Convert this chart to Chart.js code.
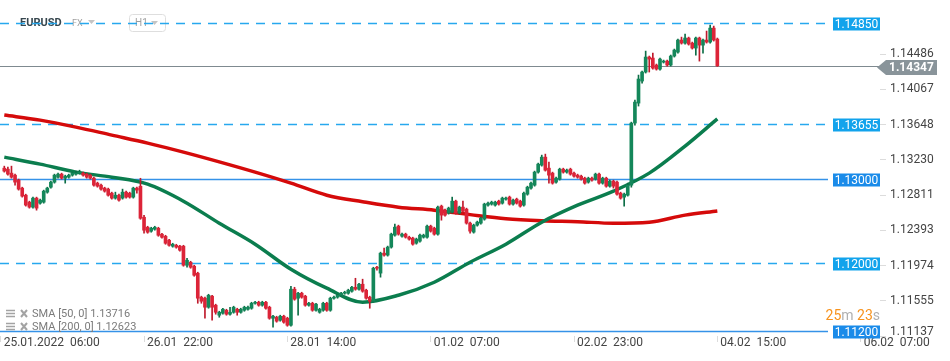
<!DOCTYPE html>
<html>
<head>
<meta charset="utf-8">
<script src="https://cdn.jsdelivr.net/npm/chart.js@4.4.1/dist/chart.umd.min.js"></script>
<style>
  html, body { margin: 0; padding: 0; background: #fff; }
  #wrap { width: 950px; height: 361px; position: relative; }
</style>
</head>
<body>
<div id="wrap"><canvas id="chart"></canvas></div>
<script>
// EURUSD H1 candles, 25.01 07:00 .. 04.02 14:00
const opens = [
  1.13131,1.13119,1.13072,1.13048,1.12989,1.12894,1.12810,1.12727,1.12668,1.12775,
  1.12715,1.12727,1.12846,1.12905,1.12965,1.13024,1.13060,1.13012,1.13024,1.13048,
  1.13060,1.13072,1.13072,1.13060,1.13048,1.13012,1.12953,1.12929,1.12894,1.12882,
  1.12834,1.12775,1.12810,1.12775,1.12846,1.12834,1.12787,1.12894,1.12916,1.12548,
  1.12429,1.12382,1.12406,1.12417,1.12346,1.12322,1.12275,1.12204,1.12215,1.12204,
  1.12204,1.11978,1.12013,1.11966,1.11883,1.11598,1.11586,1.11479,1.11610,1.11503,
  1.11384,1.11408,1.11443,1.11396,1.11419,1.11455,1.11419,1.11443,1.11455,1.11467,
  1.11526,1.11538,1.11503,1.11538,1.11479,1.11348,1.11360,1.11324,1.11372,1.11348,
  1.11265,1.11693,1.11586,1.11645,1.11610,1.11503,1.11526,1.11443,1.11419,1.11443,
  1.11526,1.11443,1.11586,1.11598,1.11621,1.11645,1.11645,1.11669,1.11716,1.11693,
  1.11752,1.11681,1.11598,1.11550,1.11954,1.11884,1.12121,1.12098,1.12193,1.12335,
  1.12442,1.12323,1.12347,1.12311,1.12300,1.12240,1.12264,1.12311,1.12311,1.12442,
  1.12418,1.12347,1.12680,1.12632,1.12597,1.12608,1.12739,1.12597,1.12668,1.12644,
  1.12478,1.12371,1.12454,1.12478,1.12525,1.12692,1.12704,1.12692,1.12739,1.12715,
  1.12763,1.12787,1.12704,1.12763,1.12739,1.12692,1.12822,1.12894,1.12929,1.13084,
  1.13167,1.13262,1.13131,1.13072,1.12965,1.13001,1.13119,1.13084,1.13119,1.13072,
  1.13048,1.13036,1.13012,1.12965,1.13012,1.13001,1.13060,1.12953,1.13012,1.12917,
  1.12977,1.12965,1.12834,1.12787,1.12810,1.12929,1.13667,1.13904,1.14166,1.14273,
  1.14451,1.14439,1.14356,1.14308,1.14391,1.14403,1.14356,1.14463,1.14510,1.14653,
  1.14617,1.14677,1.14617,1.14558,1.14677,1.14593,1.14653,1.14629,1.14795,1.14665
];
const highs = [
  1.13155,1.13143,1.13155,1.13060,1.13001,1.12905,1.12822,1.12739,1.12787,1.12787,
  1.12763,1.12870,1.12905,1.12977,1.13060,1.13072,1.13072,1.13048,1.13060,1.13084,
  1.13096,1.13107,1.13084,1.13072,1.13060,1.13024,1.12965,1.12941,1.12905,1.12894,
  1.12846,1.12846,1.12822,1.12882,1.12858,1.12846,1.12905,1.12905,1.13011,1.12572,
  1.12441,1.12429,1.12441,1.12429,1.12358,1.12334,1.12287,1.12239,1.12227,1.12215,
  1.12215,1.12061,1.12025,1.11978,1.11895,1.11610,1.11598,1.11633,1.11621,1.11515,
  1.11431,1.11467,1.11455,1.11479,1.11491,1.11467,1.11467,1.11491,1.11491,1.11538,
  1.11550,1.11550,1.11550,1.11550,1.11491,1.11384,1.11372,1.11384,1.11384,1.11360,
  1.11728,1.11716,1.11657,1.11657,1.11621,1.11538,1.11538,1.11526,1.11467,1.11538,
  1.11538,1.11598,1.11610,1.11633,1.11657,1.11669,1.11693,1.11728,1.11823,1.11764,
  1.11812,1.11693,1.11610,1.11954,1.11966,1.12133,1.12181,1.12205,1.12359,1.12466,
  1.12454,1.12359,1.12359,1.12323,1.12311,1.12300,1.12347,1.12347,1.12454,1.12454,
  1.12430,1.12680,1.12692,1.12644,1.12668,1.12787,1.12751,1.12680,1.12739,1.12656,
  1.12490,1.12466,1.12502,1.12549,1.12715,1.12727,1.12739,1.12739,1.12751,1.12787,
  1.12787,1.12799,1.12763,1.12775,1.12751,1.12846,1.12917,1.12965,1.13096,1.13191,
  1.13286,1.13298,1.13202,1.13084,1.13024,1.13131,1.13131,1.13119,1.13131,1.13084,
  1.13060,1.13048,1.13024,1.13024,1.13024,1.13072,1.13072,1.13024,1.13024,1.12989,
  1.12989,1.12977,1.12846,1.12834,1.12953,1.13678,1.13940,1.14237,1.14285,1.14522,
  1.14463,1.14498,1.14368,1.14439,1.14415,1.14415,1.14475,1.14546,1.14665,1.14688,
  1.14724,1.14688,1.14629,1.14688,1.14688,1.14665,1.14760,1.14831,1.14819,1.14677
];
const lows = [
  1.13084,1.13048,1.13012,1.12929,1.12870,1.12787,1.12680,1.12656,1.12656,1.12632,
  1.12704,1.12715,1.12834,1.12894,1.12953,1.13012,1.13001,1.12953,1.13012,1.13036,
  1.13048,1.13060,1.13036,1.13012,1.13001,1.12917,1.12905,1.12870,1.12846,1.12799,
  1.12763,1.12763,1.12739,1.12763,1.12775,1.12775,1.12775,1.12834,1.12524,1.12358,
  1.12358,1.12370,1.12394,1.12322,1.12299,1.12227,1.12204,1.12192,1.12180,1.12144,
  1.11966,1.11954,1.11942,1.11847,1.11526,1.11526,1.11348,1.11467,1.11324,1.11396,
  1.11360,1.11396,1.11384,1.11384,1.11408,1.11384,1.11408,1.11431,1.11443,1.11455,
  1.11515,1.11491,1.11491,1.11455,1.11336,1.11241,1.11301,1.11313,1.11289,1.11253,
  1.11253,1.11562,1.11384,1.11586,1.11491,1.11491,1.11431,1.11431,1.11408,1.11431,
  1.11431,1.11431,1.11574,1.11586,1.11610,1.11633,1.11633,1.11657,1.11681,1.11681,
  1.11657,1.11574,1.11467,1.11538,1.11918,1.11836,1.12086,1.12086,1.12181,1.12323,
  1.12335,1.12311,1.12300,1.12276,1.12216,1.12228,1.12252,1.12300,1.12300,1.12371,
  1.12335,1.12335,1.12513,1.12561,1.12585,1.12597,1.12585,1.12585,1.12608,1.12466,
  1.12359,1.12359,1.12442,1.12466,1.12513,1.12680,1.12692,1.12680,1.12692,1.12704,
  1.12751,1.12692,1.12692,1.12704,1.12668,1.12680,1.12810,1.12882,1.12917,1.13072,
  1.13155,1.13096,1.12953,1.12941,1.12953,1.12989,1.13072,1.13072,1.13048,1.13024,
  1.13012,1.12989,1.12941,1.12953,1.12977,1.12989,1.12941,1.12941,1.12905,1.12905,
  1.12894,1.12810,1.12763,1.12680,1.12799,1.12905,1.13643,1.13869,1.14142,1.14261,
  1.14273,1.14308,1.14296,1.14296,1.14380,1.14344,1.14344,1.14451,1.14498,1.14605,
  1.14605,1.14593,1.14546,1.14475,1.14403,1.14498,1.14617,1.14617,1.14641,1.14340
];
const closes = [
  1.13096,1.13060,1.13024,1.12965,1.12882,1.12799,1.12692,1.12668,1.12775,1.12656,
  1.12751,1.12858,1.12894,1.12965,1.13048,1.13060,1.13012,1.13036,1.13048,1.13072,
  1.13072,1.13084,1.13048,1.13024,1.13012,1.12929,1.12917,1.12882,1.12858,1.12810,
  1.12775,1.12810,1.12751,1.12846,1.12787,1.12787,1.12894,1.12870,1.12536,1.12394,
  1.12370,1.12417,1.12429,1.12334,1.12310,1.12239,1.12215,1.12227,1.12192,1.12156,
  1.11978,1.12037,1.11954,1.11859,1.11586,1.11550,1.11479,1.11621,1.11479,1.11419,
  1.11419,1.11455,1.11396,1.11419,1.11479,1.11419,1.11455,1.11479,1.11479,1.11526,
  1.11538,1.11503,1.11538,1.11467,1.11348,1.11372,1.11313,1.11372,1.11301,1.11265,
  1.11693,1.11574,1.11645,1.11598,1.11503,1.11526,1.11443,1.11515,1.11455,1.11526,
  1.11443,1.11586,1.11598,1.11621,1.11645,1.11657,1.11681,1.11716,1.11693,1.11752,
  1.11669,1.11586,1.11550,1.11942,1.11942,1.12121,1.12098,1.12193,1.12347,1.12430,
  1.12347,1.12347,1.12311,1.12288,1.12228,1.12288,1.12335,1.12335,1.12442,1.12383,
  1.12347,1.12668,1.12573,1.12573,1.12656,1.12739,1.12597,1.12668,1.12620,1.12478,
  1.12383,1.12454,1.12490,1.12537,1.12704,1.12715,1.12727,1.12727,1.12704,1.12775,
  1.12775,1.12704,1.12751,1.12715,1.12680,1.12834,1.12905,1.12953,1.13084,1.13179,
  1.13262,1.13107,1.13048,1.12953,1.13012,1.13119,1.13084,1.13107,1.13060,1.13036,
  1.13024,1.13001,1.12953,1.13012,1.12989,1.13060,1.12953,1.13012,1.12917,1.12977,
  1.12917,1.12822,1.12775,1.12822,1.12929,1.13666,1.13916,1.14190,1.14273,1.14451,
  1.14427,1.14320,1.14308,1.14427,1.14403,1.14356,1.14463,1.14534,1.14653,1.14617,
  1.14677,1.14605,1.14558,1.14677,1.14593,1.14653,1.14629,1.14795,1.14653,1.14347
];

// moving averages, every 10 bars
const smaBars = [0,10,20,30,40,50,60,70,80,90,100,110,120,130,140,150,160,170,180,190,199];
const sma50 = [1.13262,1.13179,1.13084,1.13024,1.12941,1.12739,1.12477,1.12228,1.11930,1.11705,
  1.11538,1.11621,1.11776,1.12014,1.12228,1.12489,1.12691,1.12858,1.13072,1.13393,1.13716];
const sma200 = [1.13762,1.13702,1.13619,1.13524,1.13429,1.13322,1.13206,1.13084,1.12953,1.12810,
  1.12733,1.12668,1.12632,1.12579,1.12531,1.12507,1.12495,1.12477,1.12489,1.12573,1.12623];

// axes
const tickBars = [-1, 39, 79, 119, 159, 199, 239];
const tickLabels = ['25.01.2022  06:00', '26.01  22:00', '28.01  14:00', '01.02  07:00',
  '02.02  23:00', '04.02  15:00', '06.02  07:00'];
const priceTicks = [1.11137, 1.11555, 1.11974, 1.12393, 1.12811, 1.13230, 1.13648, 1.14067, 1.14486];

// horizontal levels
const levels = [1.14850, 1.13655, 1.13000, 1.12000, 1.11200];
const levelDashed = [true, true, false, true, false];
const lastPrice = 1.14347;
const countdown = [['25', '#f7931e'], ['m ', '#b0b0b0'], ['23', '#f7931e'], ['s', '#b0b0b0']];

const FONT = 'Roboto, "Noto Sans", sans-serif';
const UP = '#14875a', DOWN = '#dc2438';
const UP_WICK = '#0d6e47', DOWN_WICK = '#bf1a2c';

const idx = closes.map((c, i) => i);
const isUp = idx.map(i => closes[i] >= opens[i]);

function drawTriangle(ctx, x, y) {
  ctx.beginPath();
  ctx.moveTo(x, y); ctx.lineTo(x + 7, y); ctx.lineTo(x + 3.5, y + 4);
  ctx.closePath(); ctx.fill();
}

const overlay = {
  id: 'overlay',
  beforeDatasetsDraw(chart) {
    const { ctx, chartArea: a, scales: { y } } = chart;
    ctx.save();
    // symbol header
    ctx.textBaseline = 'middle';
    ctx.fillStyle = '#37474f';
    ctx.font = 'bold 11px ' + FONT;
    ctx.fillText('EURUSD', 20, 23);
    ctx.fillStyle = '#a0a0a0';
    ctx.font = '9px ' + FONT;
    ctx.fillText('FX', 72, 24);
    ctx.fillStyle = '#c4c4c4';
    drawTriangle(ctx, 88, 20);
    ctx.strokeStyle = '#dedede';
    ctx.lineWidth = 1;
    ctx.beginPath();
    ctx.roundRect(129.5, 14.5, 36, 17, 3);
    ctx.stroke();
    ctx.fillStyle = '#a0a0a0';
    ctx.font = '10px ' + FONT;
    ctx.fillText('H1', 135, 23.5);
    ctx.fillStyle = '#c4c4c4';
    drawTriangle(ctx, 151, 21);

    // level lines
    levels.forEach((v, i) => {
      const py = Math.round(y.getPixelForValue(v)) + 0.5;
      ctx.strokeStyle = levelDashed[i] ? '#27a8ee' : '#3592e8';
      ctx.lineWidth = levelDashed[i] ? 1.3 : 1.4;
      ctx.setLineDash(levelDashed[i] ? [9, 7] : []);
      ctx.beginPath();
      ctx.moveTo(a.left, py);
      ctx.lineTo(a.right - 52, py);
      ctx.stroke();
    });
    ctx.setLineDash([]);
    const lp = Math.round(y.getPixelForValue(lastPrice)) + 0.5;
    ctx.strokeStyle = '#7f8a90';
    ctx.lineWidth = 1;
    ctx.beginPath();
    ctx.moveTo(a.left, lp);
    ctx.lineTo(a.right, lp);
    ctx.stroke();
    ctx.restore();
  },
  afterDatasetsDraw(chart) {
    const { ctx, chartArea: a } = chart;
    ctx.save();
    ctx.beginPath();
    ctx.rect(a.left, a.top, a.right - a.left, a.bottom - a.top - 3);
    ctx.clip();
    // indicator legend
    const rows = [['SMA [50, 0] ' + sma50[sma50.length - 1].toFixed(5), 313.5],
                  ['SMA [200, 0] ' + sma200[sma200.length - 1].toFixed(5), 326.5]];
    rows.forEach(([txt, cy]) => {
      ctx.strokeStyle = '#a3a3a3';
      ctx.lineWidth = 1.5;
      ctx.beginPath();
      [-3, 0, 3].forEach(d => { ctx.moveTo(6, cy + d); ctx.lineTo(15, cy + d); });
      ctx.stroke();
      ctx.lineWidth = 2;
      ctx.beginPath();
      ctx.moveTo(21, cy - 3.5); ctx.lineTo(27, cy + 3.5);
      ctx.moveTo(27, cy - 3.5); ctx.lineTo(21, cy + 3.5);
      ctx.stroke();
      ctx.fillStyle = '#7b7b7b';
      ctx.font = '11px ' + FONT;
      ctx.textBaseline = 'middle';
      ctx.fillText(txt, 32, cy + 1);
    });
    ctx.restore();
  },
  afterDraw(chart) {
    const { ctx, chartArea: a, scales: { y } } = chart;
    ctx.save();
    ctx.textBaseline = 'middle';
    // level price boxes
    levels.forEach((v, i) => {
      const py = Math.round(y.getPixelForValue(v)) + 1;
      ctx.fillStyle = levelDashed[i] ? '#12a3ec' : '#1a8be9';
      ctx.fillRect(a.right - 47, py - 6.5, 47, 13);
      ctx.fillStyle = '#fff';
      ctx.font = '12px ' + FONT;
      ctx.textAlign = 'center';
      ctx.fillText(v.toFixed(5), a.right - 23.5, py + 0.5);
    });
    // last price arrow tag
    const cy = Math.round(y.getPixelForValue(lastPrice)) + 1.5;
    ctx.fillStyle = '#89949a';
    ctx.beginPath();
    ctx.moveTo(a.right - 3, cy);
    ctx.lineTo(a.right + 6, cy - 7.5);
    ctx.lineTo(a.right + 57, cy - 7.5);
    ctx.lineTo(a.right + 57, cy + 7.5);
    ctx.lineTo(a.right + 6, cy + 7.5);
    ctx.closePath();
    ctx.fill();
    ctx.fillStyle = '#fff';
    ctx.font = 'bold 12px ' + FONT;
    ctx.textAlign = 'left';
    ctx.fillText(lastPrice.toFixed(5), a.right + 9, cy + 0.5);
    // candle countdown
    ctx.font = '14px ' + FONT;
    let total = 0;
    countdown.forEach(([t]) => { total += ctx.measureText(t).width; });
    let x = a.right - total;
    countdown.forEach(([t, c]) => {
      ctx.fillStyle = c;
      ctx.fillText(t, x, 316);
      x += ctx.measureText(t).width;
    });
    ctx.restore();
  }
};

new Chart(document.getElementById('chart'), {
  type: 'bar',
  data: {
    datasets: [
      {
        type: 'line',
        data: smaBars.map((b, k) => ({ x: b, y: sma200[k] })),
        borderColor: '#d50a0a',
        borderWidth: 3.5,
        pointRadius: 0,
        cubicInterpolationMode: 'monotone',
        order: 4
      },
      {
        type: 'line',
        data: smaBars.map((b, k) => ({ x: b, y: sma50[k] })),
        borderColor: '#0b7d4e',
        borderWidth: 3.5,
        pointRadius: 0,
        cubicInterpolationMode: 'monotone',
        order: 3
      },
      {
        data: idx.map(i => ({ x: i, y: [lows[i], highs[i]] })),
        backgroundColor: idx.map(i => isUp[i] ? UP_WICK : DOWN_WICK),
        barThickness: 1,
        grouped: false,
        order: 2
      },
      {
        data: idx.map(i => ({ x: i, y: [opens[i], closes[i]] })),
        backgroundColor: idx.map(i => isUp[i] ? UP : DOWN),
        barThickness: 3,
        minBarLength: 1,
        grouped: false,
        order: 1
      }
    ]
  },
  options: {
    responsive: true,
    maintainAspectRatio: false,
    animation: false,
    events: [],
    layout: { padding: 0 },
    plugins: { legend: { display: false }, tooltip: { enabled: false } },
    scales: {
      x: {
        type: 'linear',
        min: -1.2,
        max: 244.4,
        offset: false,
        grid: { drawOnChartArea: false, offset: false, tickLength: 6, color: '#dcdcdc' },
        border: { display: false },
        ticks: {
          autoSkip: false, maxRotation: 0, align: 'start', labelOffset: 3, padding: -6,
          color: '#444', font: { family: FONT, size: 12 },
          callback: (v, i) => tickLabels[i]
        },
        afterBuildTicks: s => { s.ticks = tickBars.map(v => ({ value: v })); },
        afterFit: s => { s.height = 25; s.paddingLeft = 0; s.paddingRight = 0; }
      },
      y: {
        position: 'right',
        min: 1.11137,
        max: 1.15129,
        grid: { drawOnChartArea: false, tickLength: 6, color: '#dcdcdc' },
        border: { display: false },
        ticks: {
          padding: 4,
          color: '#444',
          font: ctx => ({ family: FONT, size: 12, lineHeight: ctx.index === 0 ? 0.75 : 1.2 }),
          callback: (v, i) => i === 0 ? [v.toFixed(5), ''] : v.toFixed(5)
        },
        afterBuildTicks: s => { s.ticks = priceTicks.map(v => ({ value: v })); },
        afterFit: s => { s.width = 70; s.paddingTop = 0; s.paddingBottom = 0; }
      }
    }
  },
  plugins: [overlay]
});
</script>
</body>
</html>
